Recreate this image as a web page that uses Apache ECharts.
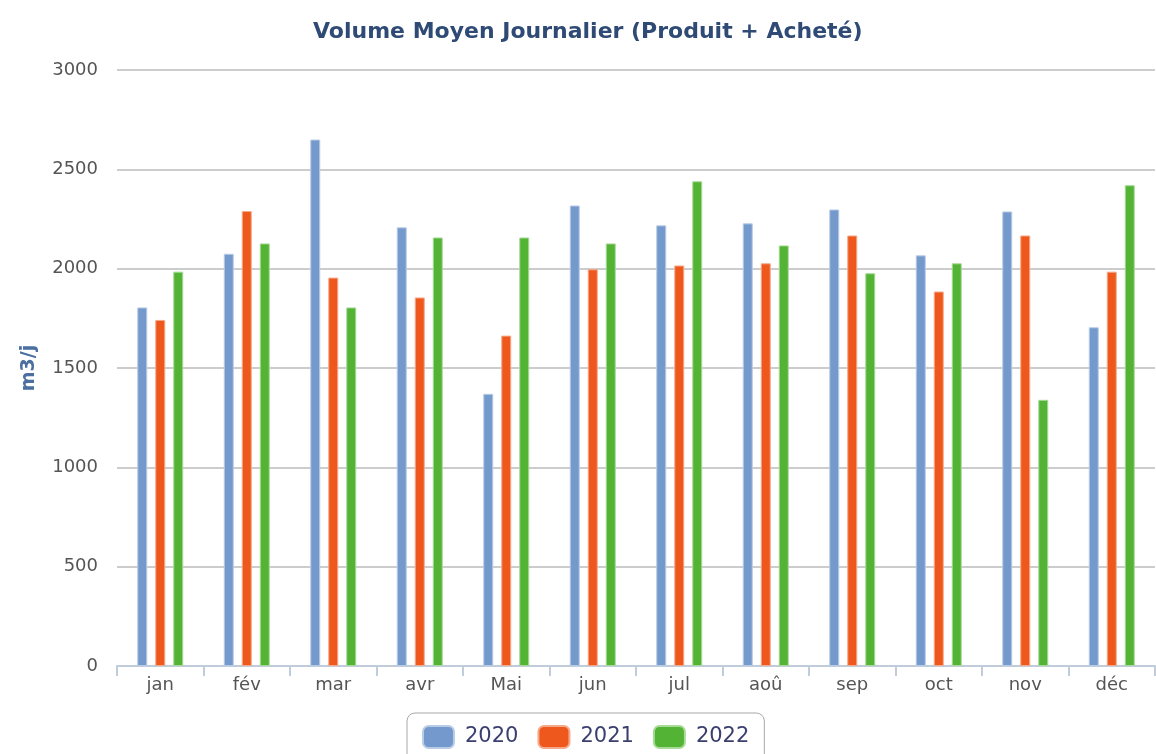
<!DOCTYPE html>
<html><head><meta charset="utf-8">
<script src="https://cdn.jsdelivr.net/npm/echarts@6/dist/echarts.min.js"></script>
<style>html,body{margin:0;padding:0;background:#fff}#c{width:1156px;height:754px}</style>
</head><body><div id="c"></div>
<script>
const categories = ['jan','fév','mar','avr','Mai','jun','jul','aoû','sep','oct','nov','déc'];
const s2020 = [1805, 2075, 2650, 2208, 1370, 2318, 2218, 2228, 2298, 2067, 2288, 1705];
const s2021 = [1742, 2290, 1955, 1855, 1663, 1997, 2016, 2027, 2167, 1885, 2167, 1985];
const s2022 = [1985, 2127, 1805, 2157, 2157, 2127, 2440, 2117, 1977, 2027, 1340, 2420];
const yTicks = [0, 500, 1000, 1500, 2000, 2500, 3000];

const font = 'DejaVu Sans';
const chart = echarts.init(document.getElementById('c'), null, {renderer:'canvas'});
function bar(name, data, color, border){
  return {name, type:'bar', data, barWidth:10, barGap:'80%',
    itemStyle:{color, borderColor:border, borderWidth:1}};
}
chart.setOption({
  animation:false,
  textStyle:{fontFamily:font},
  title:{text:'Volume Moyen Journalier (Produit + Acheté)', left:308, top:16,
    textStyle:{fontFamily:font, fontSize:22, fontWeight:'bold', color:'#2E4A75'}},
  legend:{bottom:-8, left:407, itemWidth:31, itemHeight:22, itemGap:19,
    borderColor:'#A8A8A8', borderWidth:1, borderRadius:8, padding:[12,15,13,15],
    icon:'roundRect',
    textStyle:{fontFamily:font, fontSize:21, color:'#3A3F6E', padding:[0,0,0,6]}},
  grid:{left:117, right:1, top:70, bottom:88},
  xAxis:{type:'category', data:categories,
    axisLine:{lineStyle:{color:'#C0CCDA', width:2}},
    axisTick:{show:true, length:10, lineStyle:{color:'#C0CCDA', width:2}},
    axisLabel:{fontFamily:font, fontSize:18, color:'#555', margin:10}},
  yAxis:{type:'value', min:0, max:3000, interval:500,
    name:'m3/j', nameLocation:'middle', nameGap:78, nameRotate:90,
    nameTextStyle:{fontFamily:font, fontSize:19, fontWeight:'bold', color:'#4A6FA0'},
    axisLabel:{fontFamily:font, fontSize:18, color:'#555', margin:19,
      formatter:v=>yTicks.includes(v)?String(v):''},
    axisLine:{show:false}, axisTick:{show:false},
    splitLine:{lineStyle:{color:'#CCCCCC', width:2}}},
  series:[
    bar('2020', s2020, '#7499CC', '#B9CCE6'),
    bar('2021', s2021, '#EE581C', '#F6A98A'),
    bar('2022', s2022, '#53B334', '#A8DA98')
  ]
});
</script></body></html>
